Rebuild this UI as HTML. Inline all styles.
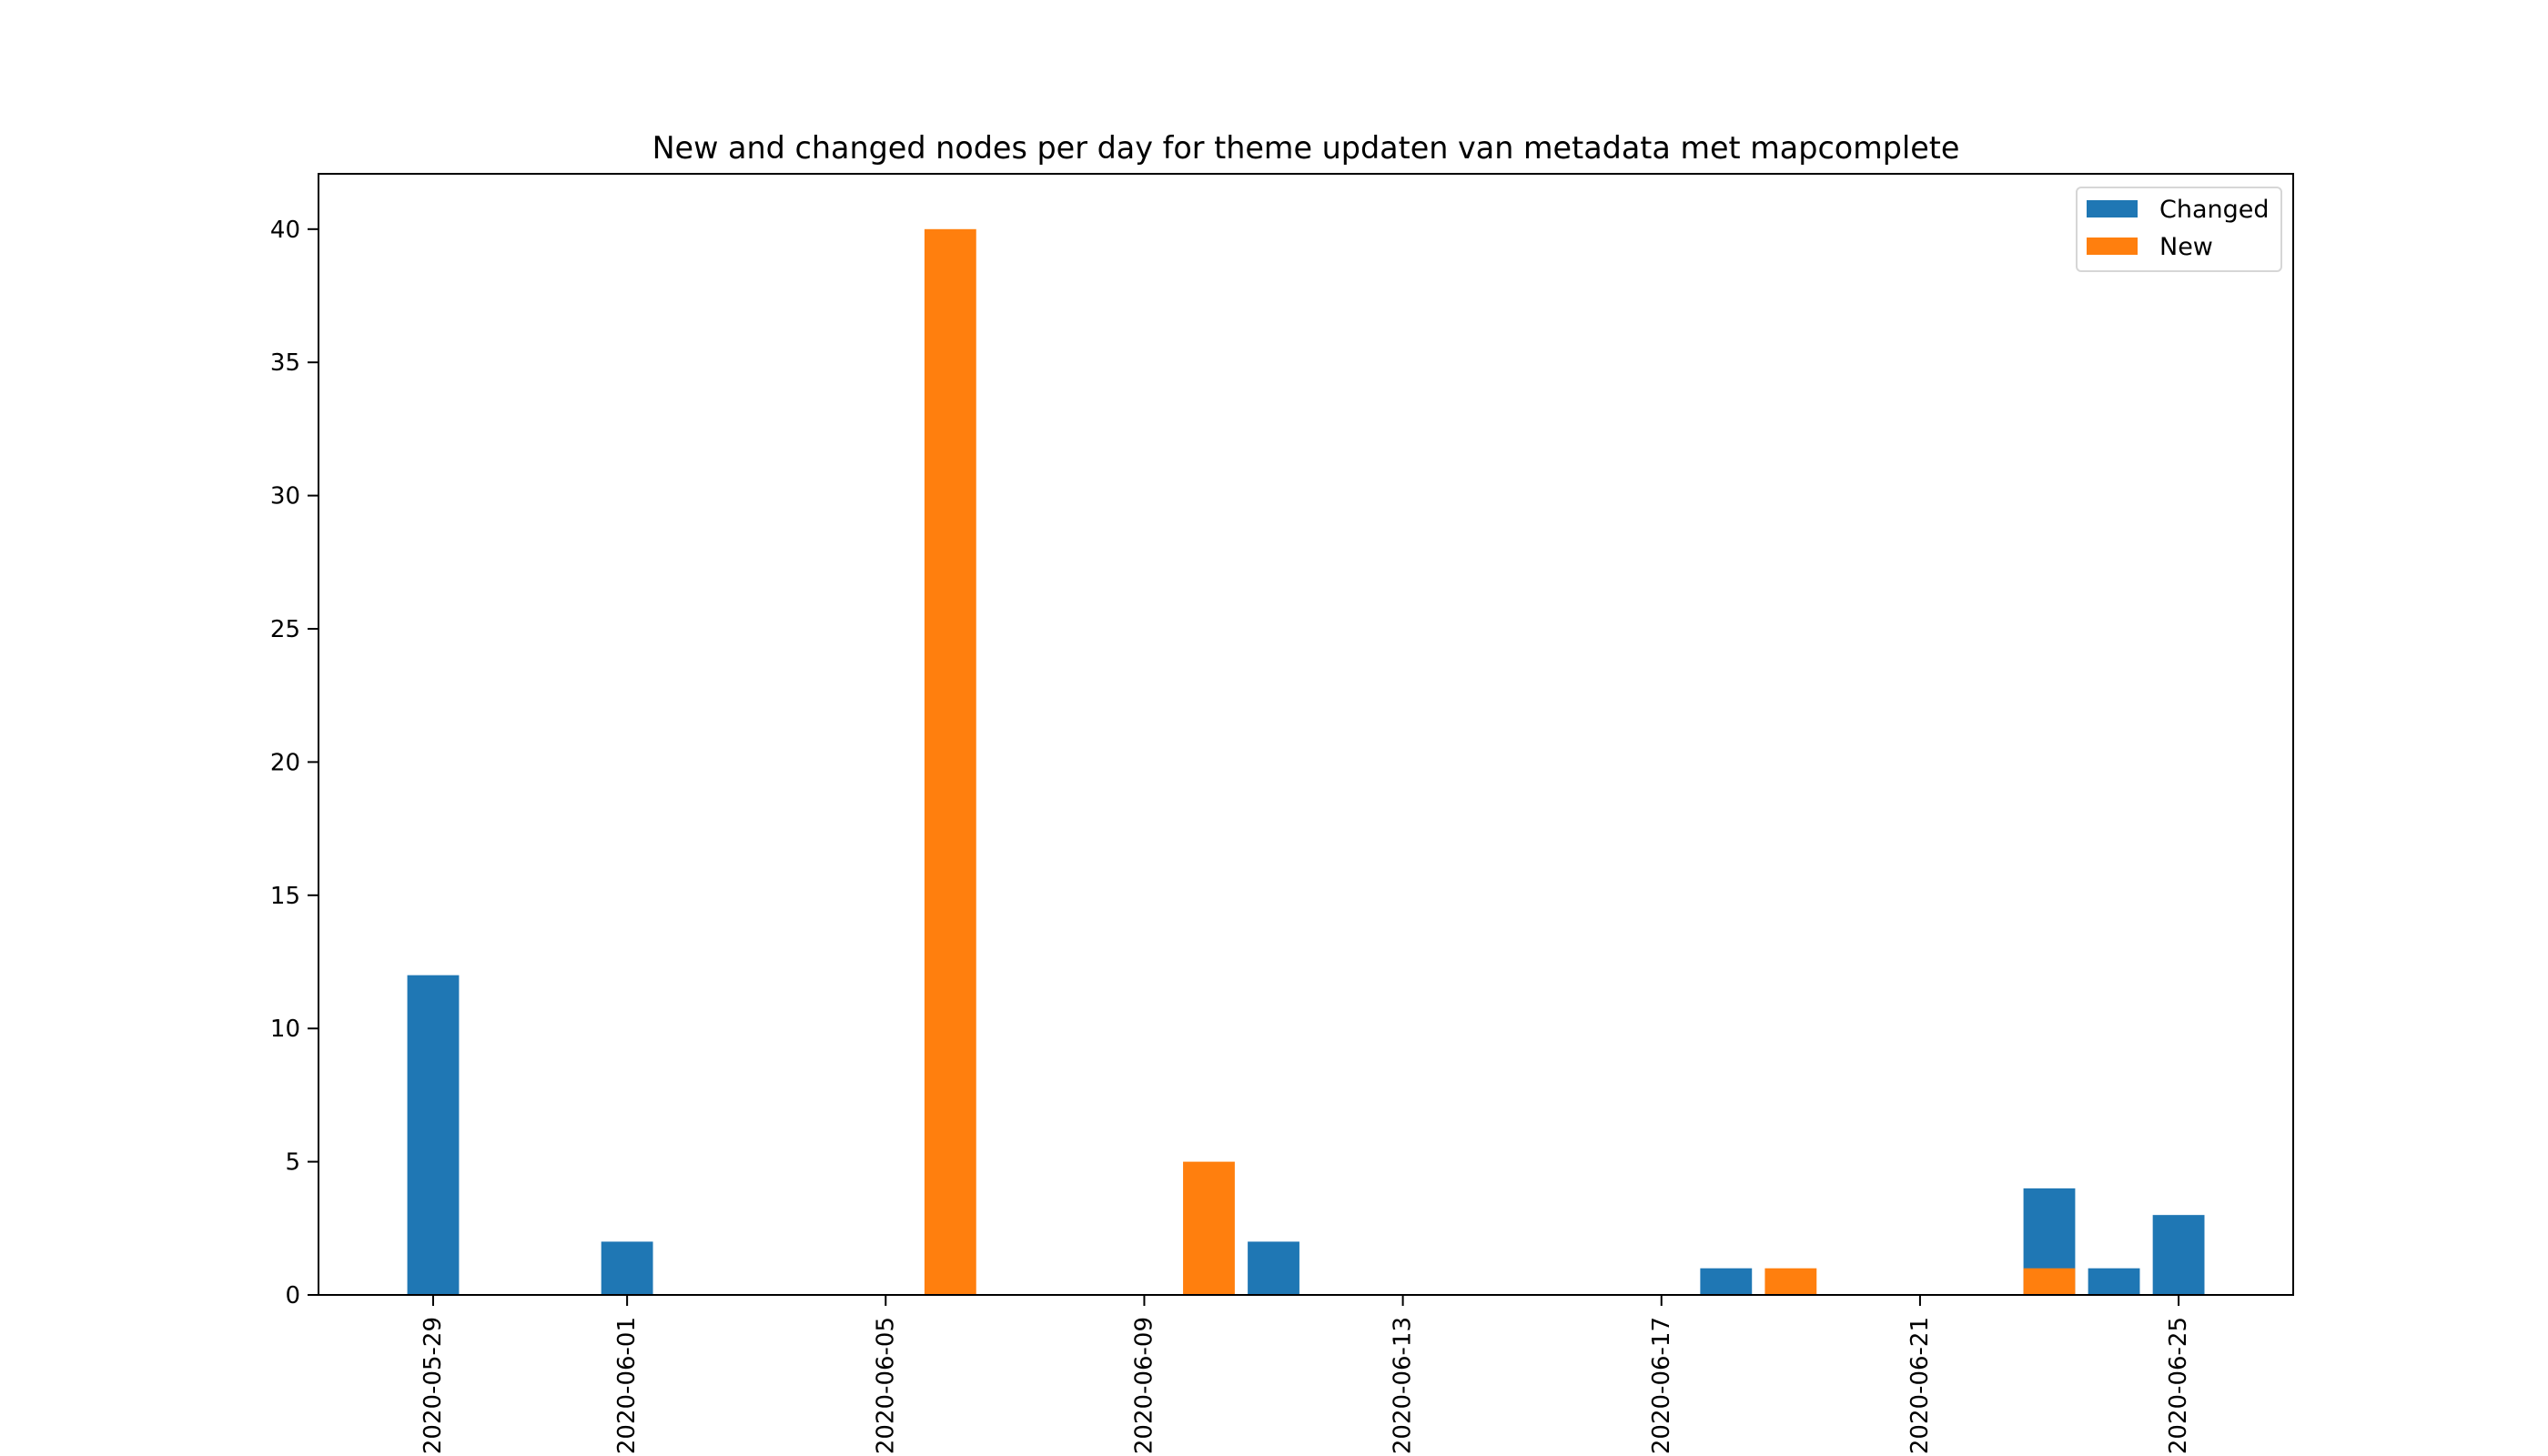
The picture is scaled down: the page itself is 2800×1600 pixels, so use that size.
<!DOCTYPE html>
<html><head><meta charset="utf-8"><style>body{margin:0;background:#fff}svg{display:block;font-family:"DejaVu Sans","Liberation Sans",sans-serif}</style></head>
<body>
<svg id="chart" width="2800" height="1600" viewBox="0 0 2800 1600">
<rect width="2800" height="1600" fill="#fff"/>
<text x="1435" y="174" font-size="33.4" text-anchor="middle">New and changed nodes per day for theme updaten van metadata met mapcomplete</text>
<g id="bars"></g>
<g id="axes"></g>
<rect x="350" y="191" width="2170" height="1232" fill="none" stroke="#000" stroke-width="2"/>
<g>
<rect x="2282" y="206" width="225" height="92" rx="5" fill="#fff" stroke="#d6d6d6" stroke-width="2"/>
<rect x="2293" y="220" width="56" height="19" fill="#1f77b4"/>
<text x="2373" y="239" font-size="27">Changed</text>
<rect x="2293" y="261" width="56" height="19" fill="#ff7f0e"/>
<text x="2373" y="280" font-size="27">New</text>
</g>
</svg>
<script>
const changedDays = [0, 3, 13, 20, 25, 26, 27];
const changedValues = [12, 2, 2, 1, 4, 1, 3];
const newDays = [8, 12, 21, 25];
const newValues = [40, 5, 1, 1];
const xTickDays = [0, 3, 7, 11, 15, 19, 23, 27];
const xTickLabels = ["2020-05-29","2020-06-01","2020-06-05","2020-06-09","2020-06-13","2020-06-17","2020-06-21","2020-06-25"];
const yTicks = [0, 5, 10, 15, 20, 25, 30, 35, 40];

const NS = "http://www.w3.org/2000/svg";
const x0 = 476, dayW = 71.04, y0 = 1423, unit = 29.28, barW = 0.8;
const xs = d => x0 + d * dayW;
const ys = v => y0 - v * unit;
const bars = document.getElementById('bars');
const axes = document.getElementById('axes');
function mk(tag, attrs, parent) {
  const e = document.createElementNS(NS, tag);
  for (const k in attrs) e.setAttribute(k, attrs[k]);
  parent.appendChild(e);
  return e;
}
function drawSeries(days, vals, color, name) {
  days.forEach((d, i) => {
    const r = mk('rect', {x: xs(d - barW / 2), y: ys(vals[i]), width: barW * dayW, height: y0 - ys(vals[i]), fill: color}, bars);
    
    
  });
}
drawSeries(changedDays, changedValues, '#1f77b4', 'changed');
drawSeries(newDays, newValues, '#ff7f0e', 'new');
yTicks.forEach(v => {
  const y = ys(v);
  mk('line', {x1: 338, x2: 350, y1: y, y2: y, stroke: '#000', 'stroke-width': 2}, axes);
  const t = mk('text', {x: 330, y: y + 9, 'font-size': 26, 'text-anchor': 'end'}, axes);
  t.textContent = v;
  
  
});
xTickDays.forEach((d, i) => {
  const x = xs(d);
  mk('line', {x1: x, x2: x, y1: 1423, y2: 1435, stroke: '#000', 'stroke-width': 2}, axes);
  const t = mk('text', {x: 0, y: 0, 'font-size': 26, 'text-anchor': 'end', 'dominant-baseline': 'central', transform: 'translate(' + x + ',1447) rotate(-90)'}, axes);
  t.textContent = xTickLabels[i];
  
  
});
</script>
</body></html>
